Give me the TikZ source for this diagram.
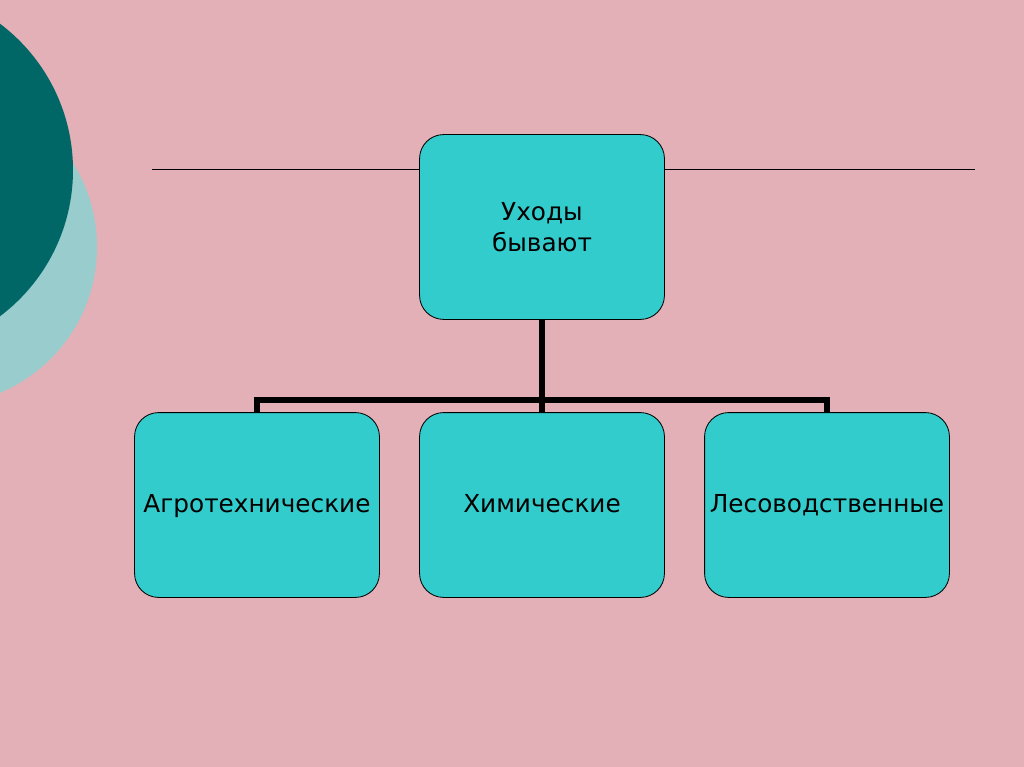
\documentclass[tikz,border=0pt]{standalone}
\usepackage{fontspec}
\setmainfont{DejaVu Sans}
\usetikzlibrary{positioning}
\definecolor{slidepink}{HTML}{E4B0B7}
\definecolor{slidedark}{HTML}{006666}
\definecolor{slidelight}{HTML}{99CCCC}
\definecolor{boxteal}{HTML}{33CCCC}

\begin{document}
\begin{tikzpicture}[
    x=0.025cm,
    y=-0.025cm,
    kindbox/.style={draw=black, line width=0.6pt, fill=boxteal, rounded corners=0.6cm,
      minimum width=6.12cm, minimum height=4.62cm, align=center, font=\fontsize{17.6}{22.5}\selectfont},
    leafbox/.style={kindbox, text height=1.32em, text depth=0.22em},
    link/.style={draw=black, line width=4.3pt}
  ]
    \useasboundingbox (0,0) rectangle (1024,767);
    \clip (0,0) rectangle (1024,767);
    \fill[slidepink] (0,0) rectangle (1024,767);

    % decorative circles on the left edge
    \fill[slidelight] (-61,247) circle (158);
    \fill[slidedark] (-110,170) circle (183);

    % title rule
    \coordinate (rule-l) at (152,169);
    \coordinate (rule-r) at (975,169);
    \draw[black, line width=0.6pt] (rule-l) -- (rule-r);

    \node[kindbox] (N-care) at (542,227) {Уходы\\бывают};
    \node[leafbox] (N-agro) at (257,505) {Агротехнические};
    \node[leafbox] (N-chem) at (542,505) {Химические};
    \node[leafbox] (N-silv) at (827,505) {Лесоводственные};

    \coordinate (bus) at (542,400);
    \draw[link] (N-care.south) -- (bus);
    \draw[link] (bus) -| (N-agro.north);
    \draw[link] (bus) -| (N-silv.north);
    \draw[link] (bus) -- (N-chem.north);
  \end{tikzpicture}
\end{document}
